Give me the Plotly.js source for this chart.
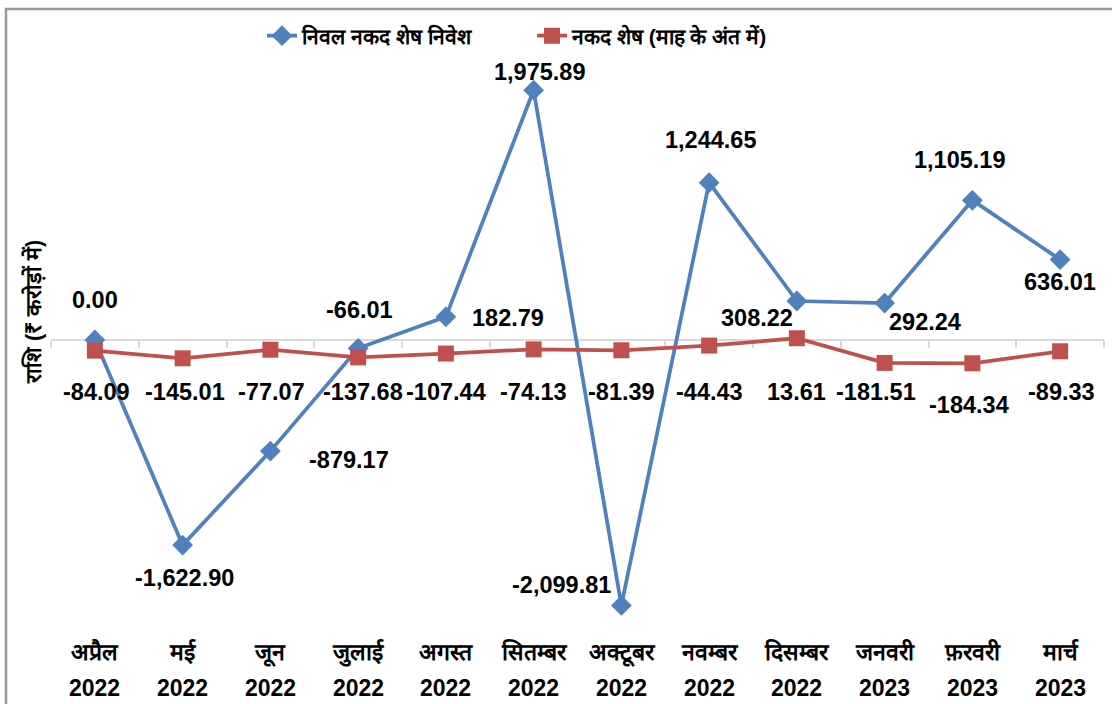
<!DOCTYPE html>
<html>
<head>
<meta charset="utf-8">
<script src="https://cdn.plot.ly/plotly-3.0.1.min.js"></script>
<style>
  body { margin: 0; background: #fff; }
  #chart { width: 1112px; height: 704px; }
</style>
</head>
<body>
<div id="chart"></div>
<script>
// Data
const months = ['अप्रैल', 'मई', 'जून', 'जुलाई', 'अगस्त', 'सितम्बर', 'अक्टूबर', 'नवम्बर', 'दिसम्बर', 'जनवरी', 'फ़रवरी', 'मार्च'];
const years = ['2022', '2022', '2022', '2022', '2022', '2022', '2022', '2022', '2022', '2023', '2023', '2023'];
const netInvestment = [0.00, -1622.90, -879.17, -66.01, 182.79, 1975.89, -2099.81, 1244.65, 308.22, 292.24, 1105.19, 636.01];
const cashBalance = [-84.09, -145.01, -77.07, -137.68, -107.44, -74.13, -81.39, -44.43, 13.61, -181.51, -184.34, -89.33];

const seriesNames = ['निवल नकद शेष निवेश', 'नकद शेष (माह के अंत में)'];
const yTitle = 'राशि (₹ करोड़ों में)';

// label offsets in px [dx, dy] (dy down positive)
const blueOffsets = [[0, -40], [2, 33], [79, 9], [1, -38], [62, 1], [6, -18], [-60, -20], [1, -43], [-40, 17], [40, 19], [-13, -40], [0, 22]];
const redOffsets = [[2, 41], [2, 34], [1, 42], [5, 35], [0, 38], [0, 43], [0, 42], [0, 46], [0, 54], [-9, 29], [-3, 42], [1, 41]];

const COLORS = { blue: '#4F81BD', red: '#C0504D', zero: '#d9d9d9', text: '#000000' };
const FONT = 'Liberation Sans, Arial, sans-serif';

const W = 1112, H = 704;
const M = { l: 51, r: 8, t: 60, b: 80 };
const plotH = H - M.t - M.b;
const plotW = W - M.l - M.r;
const yRange = [-2247, 2215];
const zeroPos = (0 - yRange[0]) / (yRange[1] - yRange[0]);

const fmt = v => v.toLocaleString('en-US', { minimumFractionDigits: 2, maximumFractionDigits: 2 });
const pxY = p => (H - M.b - p) / plotH;   // pixel y -> paper y
const pxX = p => (p - M.l) / plotW;       // pixel x -> paper x

const traces = [
    {
        x: months, y: netInvestment, name: seriesNames[0],
        type: 'scatter', mode: 'lines+markers',
        xaxis: 'x', yaxis: 'y',
        line: { color: COLORS.blue, width: 3.75 },
        marker: { symbol: 'diamond', size: 16, color: COLORS.blue }
    },
    {
        x: months, y: cashBalance, name: seriesNames[1],
        type: 'scatter', mode: 'lines+markers',
        xaxis: 'x2', yaxis: 'y',
        line: { color: COLORS.red, width: 3.75 },
        marker: { symbol: 'square', size: 16, color: COLORS.red }
    }
];

const labelFont = { family: FONT, size: 23.5, color: COLORS.text, weight: 700 };
const annotations = [];
months.forEach((m, i) => {
    annotations.push({
        x: m, y: netInvestment[i], xref: 'x', yref: 'y',
        text: fmt(netInvestment[i]), showarrow: false,
        xshift: blueOffsets[i][0], yshift: -blueOffsets[i][1],
        font: labelFont
    });
    annotations.push({
        x: m, y: cashBalance[i], xref: 'x', yref: 'y',
        text: fmt(cashBalance[i]), showarrow: false,
        xshift: redOffsets[i][0], yshift: -redOffsets[i][1],
        font: labelFont
    });
    annotations.push({
        x: m, y: pxY(688), xref: 'x', yref: 'paper', yanchor: 'middle',
        text: years[i], showarrow: false,
        font: { family: FONT, size: 23, color: COLORS.text, weight: 700 }
    });
});
annotations.push({
    x: pxX(33), y: pxY(312), xref: 'paper', yref: 'paper',
    xanchor: 'center', yanchor: 'middle',
    text: yTitle, textangle: -90, showarrow: false,
    font: { family: FONT, size: 21.5, color: COLORS.text, weight: 700 }
});

const layout = {
    width: W, height: H,
    margin: M,
    paper_bgcolor: '#ffffff',
    plot_bgcolor: '#ffffff',
    font: { family: FONT, color: COLORS.text },
    showlegend: true,
    legend: {
        orientation: 'h', x: pxX(262), xanchor: 'left', y: pxY(36), yanchor: 'middle',
        font: { family: FONT, size: 21, color: COLORS.text, weight: 700 },
        entrywidth: 225, entrywidthmode: 'pixels'
    },
    xaxis: {
        type: 'category', range: [-0.5, 11.5],
        showline: false, showgrid: false, zeroline: false, ticks: '',
        tickfont: { family: FONT, size: 23, color: COLORS.text, weight: 700 },
        ticklabelstandoff: 12
    },
    xaxis2: {
        type: 'category', range: [-0.5, 11.5],
        overlaying: 'x', anchor: 'free', position: zeroPos,
        showline: true, linecolor: COLORS.zero, linewidth: 2,
        ticks: 'outside', tickson: 'boundaries', ticklen: 7, tickcolor: COLORS.zero, tickwidth: 2,
        showticklabels: false, showgrid: false, layer: 'below traces'
    },
    yaxis: {
        range: yRange, showgrid: false, zeroline: false, showline: false,
        showticklabels: false, ticks: ''
    },
    shapes: [{
        type: 'rect', xref: 'paper', yref: 'paper',
        x0: pxX(6), x1: pxX(1130), y0: pxY(730), y1: pxY(9),
        line: { color: '#999999', width: 2.5 }
    }],
    annotations: annotations
};

Plotly.newPlot('chart', traces, layout, { staticPlot: true });
</script>
</body>
</html>
